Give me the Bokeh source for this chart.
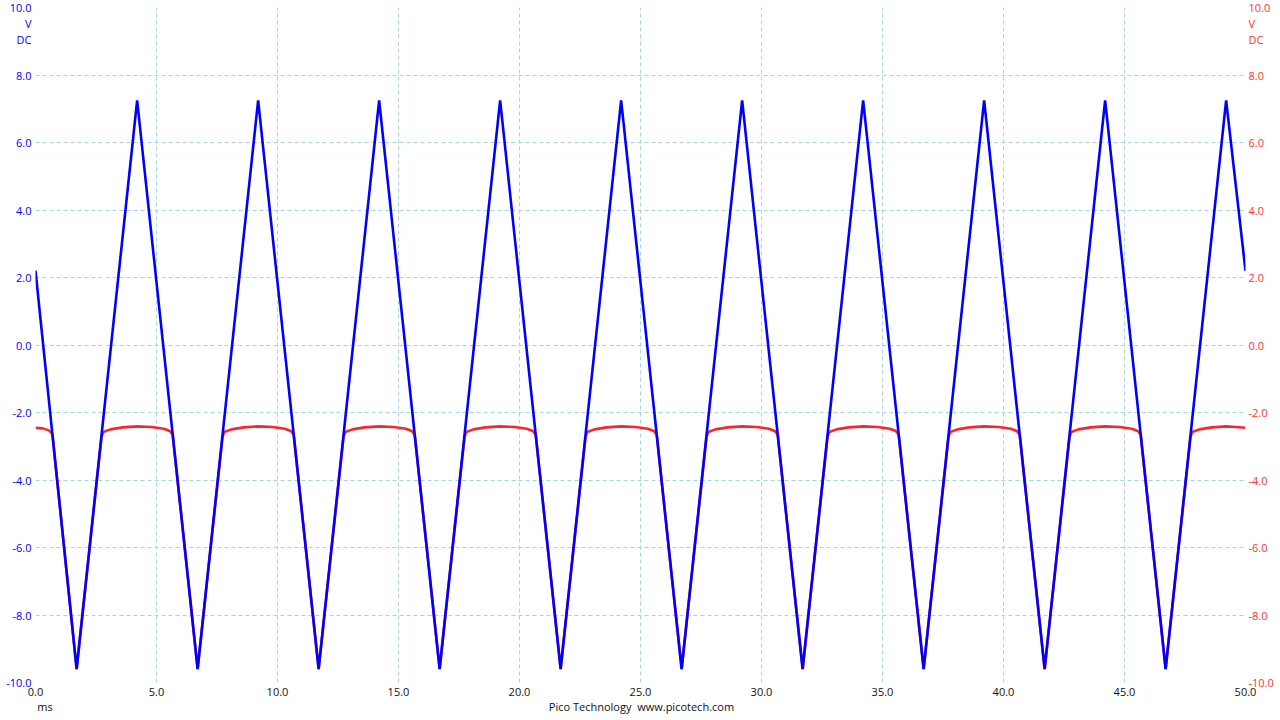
from bokeh.plotting import figure
from bokeh.models import (Range1d, LinearAxis, FixedTicker, NumeralTickFormatter)
from bokeh.embed import file_html
from bokeh.resources import INLINE

# ---- data ----
x_ticks = [0, 5, 10, 15, 20, 25, 30, 35, 40, 45, 50]
y_ticks = [-10, -8, -6, -4, -2, 0, 2, 4, 6, 8, 10]
unit_text = ["V", "DC"]
x_unit = "ms"
footer = "Pico Technology \u00a0www.picotech.com"

# Channel A (blue) triangle wave vertices: time (ms), volts
blue_t = [0.0, 1.7, 4.2, 6.7, 9.2, 11.7, 14.2, 16.7, 19.2, 21.7, 24.2,
          26.7, 29.2, 31.7, 34.2, 36.7, 39.2, 41.7, 44.2, 46.7, 49.2, 50.0]
blue_v = [2.2, -9.6, 7.25, -9.6, 7.25, -9.6, 7.25, -9.6, 7.25, -9.6, 7.25,
          -9.6, 7.25, -9.6, 7.25, -9.6, 7.25, -9.6, 7.25, -9.6, 7.25, 2.2]

# Channel B (red) clipped wave
red_t = [0.0, 0.3, 0.55, 0.7, 1.7,
         2.73, 2.8, 3.1, 3.6, 4.2, 4.8, 5.3, 5.55, 5.67, 6.7,
         7.73, 7.8, 8.1, 8.6, 9.2, 9.8, 10.3, 10.55, 10.67, 11.7,
         12.73, 12.8, 13.1, 13.6, 14.2, 14.8, 15.3, 15.55, 15.67, 16.7,
         17.73, 17.8, 18.1, 18.6, 19.2, 19.8, 20.3, 20.55, 20.67, 21.7,
         22.73, 22.8, 23.1, 23.6, 24.2, 24.8, 25.3, 25.55, 25.67, 26.7,
         27.73, 27.8, 28.1, 28.6, 29.2, 29.8, 30.3, 30.55, 30.67, 31.7,
         32.73, 32.8, 33.1, 33.6, 34.2, 34.8, 35.3, 35.55, 35.67, 36.7,
         37.73, 37.8, 38.1, 38.6, 39.2, 39.8, 40.3, 40.55, 40.67, 41.7,
         42.73, 42.8, 43.1, 43.6, 44.2, 44.8, 45.3, 45.55, 45.67, 46.7,
         47.73, 47.8, 48.1, 48.6, 49.2, 49.6, 50.0]
red_v = [-2.45, -2.47, -2.53, -2.64, -9.6,
         -2.72, -2.58, -2.50, -2.44, -2.41, -2.43, -2.48, -2.55, -2.66, -9.6,
         -2.72, -2.58, -2.50, -2.44, -2.41, -2.43, -2.48, -2.55, -2.66, -9.6,
         -2.72, -2.58, -2.50, -2.44, -2.41, -2.43, -2.48, -2.55, -2.66, -9.6,
         -2.72, -2.58, -2.50, -2.44, -2.41, -2.43, -2.48, -2.55, -2.66, -9.6,
         -2.72, -2.58, -2.50, -2.44, -2.41, -2.43, -2.48, -2.55, -2.66, -9.6,
         -2.72, -2.58, -2.50, -2.44, -2.41, -2.43, -2.48, -2.55, -2.66, -9.6,
         -2.72, -2.58, -2.50, -2.44, -2.41, -2.43, -2.48, -2.55, -2.66, -9.6,
         -2.72, -2.58, -2.50, -2.44, -2.41, -2.43, -2.48, -2.55, -2.66, -9.6,
         -2.72, -2.58, -2.50, -2.44, -2.41, -2.43, -2.48, -2.55, -2.66, -9.6,
         -2.72, -2.58, -2.50, -2.44, -2.41, -2.43, -2.45]

FONT = "Open Sans"
FS = "11px"
BLUE = "#0000FF"
RED = "#F52830"
RED_TXT = "#FF3333"
GRID = "#A8D4E0"
DARK = "#111111"

# positions (data units) where the unit captions sit beside the top of the axes
unit_pos = [9.53, 9.05]
footer_pos = [0.39, 25.04]

p = figure(width=1280, height=720, output_backend="svg", toolbar_location=None,
           x_range=Range1d(0, 50), y_range=Range1d(-10, 10),
           y_axis_location=None, x_axis_location=None)
p.min_border = 0
p.min_border_left = 35
p.min_border_right = 35
p.min_border_top = 7
p.min_border_bottom = 38
p.outline_line_color = None
p.background_fill_color = "white"
p.border_fill_color = "white"

def style_axis(ax, color):
    ax.axis_line_color = None
    ax.major_tick_line_color = None
    ax.minor_tick_line_color = None
    ax.major_tick_out = 0
    ax.major_tick_in = 0
    ax.major_label_text_color = color
    ax.major_label_text_font = FONT
    ax.major_label_text_font_size = FS
    ax.formatter = NumeralTickFormatter(format="0.0")

overrides_units = {unit_pos[0]: unit_text[0], unit_pos[1]: unit_text[1]}

xa = LinearAxis(ticker=FixedTicker(ticks=x_ticks))
style_axis(xa, DARK)
xa.major_label_standoff = 5
p.add_layout(xa, "below")

xb = LinearAxis(ticker=FixedTicker(ticks=footer_pos))
style_axis(xb, DARK)
xb.major_label_standoff = 0
xb.major_label_overrides = {footer_pos[0]: x_unit, footer_pos[1]: footer}
p.add_layout(xb, "below")

ya = LinearAxis(ticker=FixedTicker(ticks=y_ticks + unit_pos))
style_axis(ya, BLUE)
ya.major_label_standoff = 4
ya.major_label_overrides = overrides_units
p.add_layout(ya, "left")

yb = LinearAxis(ticker=FixedTicker(ticks=y_ticks + unit_pos))
style_axis(yb, RED_TXT)
yb.major_label_standoff = 3
yb.major_label_overrides = overrides_units
p.add_layout(yb, "right")

p.xgrid.ticker = FixedTicker(ticks=x_ticks)
p.ygrid.ticker = FixedTicker(ticks=y_ticks)
for g in (p.xgrid, p.ygrid):
    g.grid_line_color = GRID
    g.grid_line_dash = "4 3"
    g.grid_line_width = 1

p.line(red_t, red_v, line_color=RED, line_width=2.6)
p.line(blue_t, blue_v, line_color=BLUE, line_width=2.6)

open("out.html", "w").write(file_html(p, INLINE))
